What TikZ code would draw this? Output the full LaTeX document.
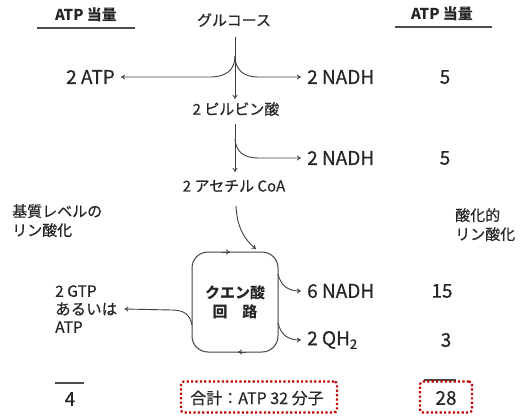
\documentclass[tikz,border=0pt]{standalone}
\usepackage{fontspec}
\setmainfont{Noto Sans CJK JP}
\newfontfamily\medfont{Noto Sans CJK JP}[FakeBold=0.5]
\usetikzlibrary{arrows.meta}
\definecolor{dred}{RGB}{192,0,0}
\tikzset{
  lbl/.style={inner sep=0pt, text=black!85},
  big/.style={lbl, font=\medfont\fontsize{19}{22}\selectfont},
  mid/.style={lbl, font=\medfont\fontsize{15}{18}\selectfont},
  hdr/.style={lbl, font=\bfseries\fontsize{15}{18}\selectfont},
  conn/.style={line width=0.9pt, black!75, -{To[length=4pt,width=5pt]}},
  rule/.style={line width=1.2pt, black!70},
  dbox/.style={draw=dred, line width=2.2pt, dash pattern=on 2.2pt off 2.2pt, rounded corners=3pt}
}
\begin{document}
\begin{tikzpicture}[x=1pt,y=-1pt]
\useasboundingbox (0,0) rectangle (522,416);
% headers
\node[hdr] (hl) at (86,15) {ATP 当量};
\node[hdr] (hr) at (442,14) {ATP 当量};
\coordinate (hla) at (37,28); \coordinate (hlb) at (135,28);
\coordinate (hra) at (395,27); \coordinate (hrb) at (492,27);
\draw[rule] (hla) -- (hlb);
\draw[rule] (hra) -- (hrb);
% main pathway
\node[mid] (glc) at (234,20) {グルコース};
\node[mid] (pyr) at (236,109) {2 ピルビン酸};
\node[mid] (coa) at (234,186) {2 アセチル CoA};
\node[big, anchor=east] (atp1) at (115,77) {2 ATP};
\node[big, anchor=west] (nadh1) at (307,77) {2 NADH};
\node[big] (n1) at (445,77) {5};
\node[big, anchor=west] (nadh2) at (307,158) {2 NADH};
\node[big] (n2) at (445,158) {5};
\draw[conn] (235,37) -- (235,99);
\coordinate (b1) at (235,56);
\draw[conn] (b1) .. controls (235,70) and (226,77) .. (210,77) -- ([xshift=6pt]atp1.east);
\draw[conn] (b1) .. controls (235,70) and (244,77) .. (258,77) -- ([xshift=-6pt]nadh1.west);
\draw[conn] (235,124) -- (235,172);
\coordinate (b2) at (235,139);
\draw[conn] (b2) .. controls (236,152) and (244,158) .. (258,158) -- ([xshift=-6pt]nadh2.west);
% side labels
\node[mid, anchor=north west, align=left, font=\medfont\fontsize{15}{19}\selectfont] (sub) at (12,204) {基質レベルの\\リン酸化};
\node[mid, anchor=north west, align=left, font=\medfont\fontsize{15}{19}\selectfont] (oxi) at (455,208) {酸化的\\リン酸化};
% cycle
\node[draw=black!75, line width=1pt, rounded corners=16pt, minimum width=86pt, minimum height=100pt, inner sep=0pt] (tca) at (235,302) {};
\node[lbl, align=center, font=\bfseries\fontsize{15}{19}\selectfont] (tcat) at (235,302) {クエン酸\\回\quad 路};
\draw[conn] (236,206) .. controls (237,228) and (245,240) .. (256,249);
\draw[black!75, line width=0.9pt, -{To[length=4pt,width=5pt]}] (222,252) -- (230,252);
\draw[black!75, line width=0.9pt, -{To[length=4pt,width=5pt]}] (246,352) -- (238,352);
% cycle branches
\node[big, anchor=west] (nadh3) at (307,291) {6 NADH};
\node[big] (n3) at (442,291) {15};
\node[big, anchor=west] (qh) at (307,340) {2 QH\textsubscript{2}};
\node[big] (n4) at (446,340) {3};
\node[lbl, align=left, anchor=west, font=\medfont\fontsize{15.5}{18}\selectfont] (gtp) at (55,309) {2 GTP\\あるいは\\ATP};
\draw[conn] (278,274) .. controls (281,286) and (288,291) .. ([xshift=-6pt]nadh3.west);
\draw[conn] (278,323) .. controls (281,335) and (288,340) .. ([xshift=-6pt]qh.west);
\draw[conn] (192,325) .. controls (190,314) and (183,310) .. (172,310) -- ([xshift=7pt]gtp.east);
% totals
\coordinate (l4a) at (55,383); \coordinate (l4b) at (84,383);
\draw[rule] (l4a) -- (l4b);
\node[big] (t4) at (70,399) {4};
\node[draw=none, minimum width=156pt, minimum height=31pt, dbox] (tot) at (259,397) {};
\node[mid, font=\medfont\fontsize{16}{18}\selectfont] (tott) at (257,398) {合計：ATP 32 分子};
\coordinate (l28a) at (424,380); \coordinate (l28b) at (456,380);
\draw[rule] (l28a) -- (l28b);
\node[dbox, minimum width=52pt, minimum height=31pt] (b28) at (446,397) {};
\node[big] (t28) at (446,398) {28};
\end{tikzpicture}
\end{document}
